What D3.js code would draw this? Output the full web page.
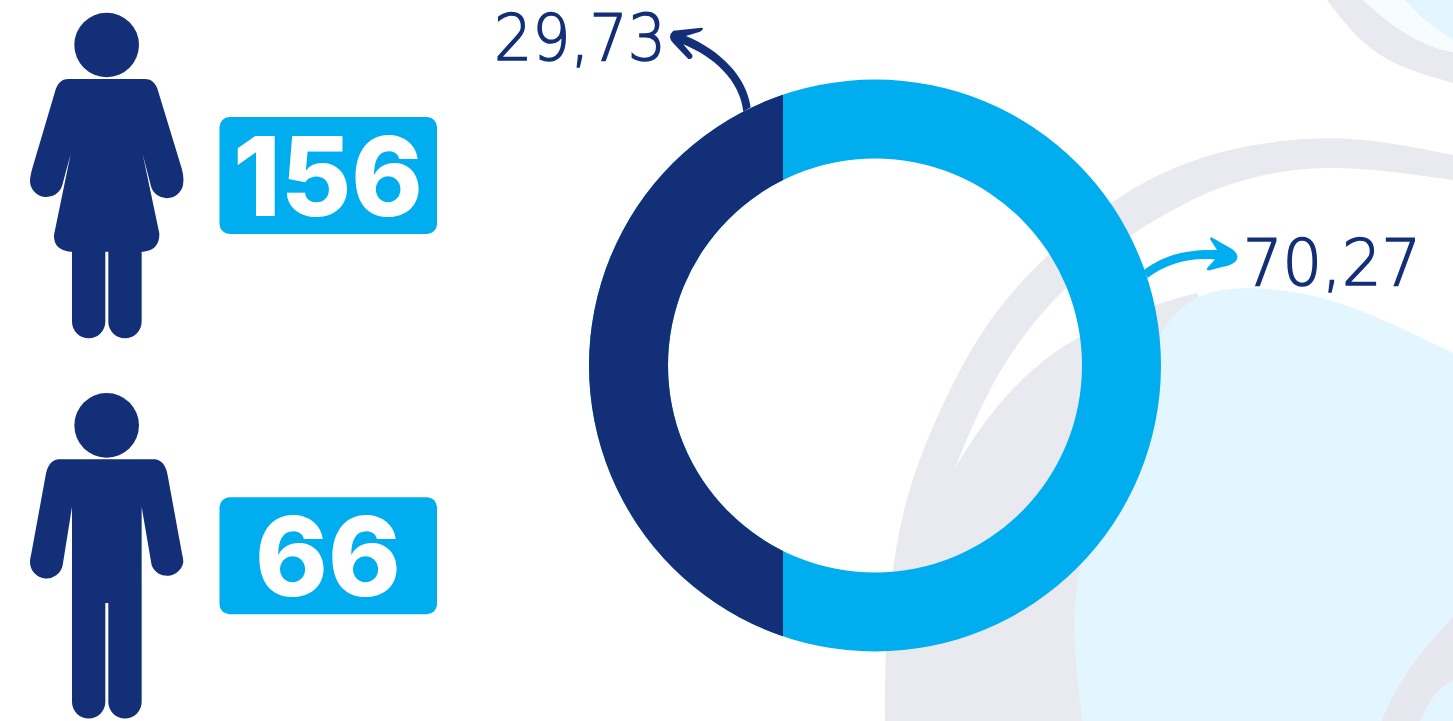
<!DOCTYPE html>
<html><head><meta charset="utf-8">
<script src="https://cdn.jsdelivr.net/npm/d3@7"></script>
<style>html,body{margin:0;padding:0;background:#fff;overflow:hidden}svg{display:block}text{font-family:Inter,"Open Sans",sans-serif}</style>
</head><body><svg id="c" width="1453" height="721"></svg>
<script>
const groups = ["Mujeres","Hombres"];
const counts = [156,66];
const shares = [29.73,70.27];
const shareColors = ["#132F77","#00AEEF"];
const DARK="#132F77", LIGHT="#00AEEF", GRAY="#E9EAF0", PALE="#E3F5FE";
const svg=d3.select("#c");
const edge=d3.line().curve(d3.curveBasis);
const shape=(...parts)=>parts.map((p,i)=>{const s=edge(p);return i?"L"+s.slice(1):s}).join("")+"Z";

// decorative background
const bg=svg.append("g");
bg.append("path").attr("fill",GRAY).attr("d",shape([[885,721],[885,647],[893,557],[910,480],[945,397],[980,333],[1013,290],[1055,247],[1113,200],[1160,173],[1217,151],[1283,140],[1330,137],[1383,141],[1453,155]],[[1453,721],[1453,721]]));
bg.append("path").attr("fill","#fff").attr("d",shape([[955,468],[980,407],[1013,347],[1065,285],[1130,235],[1160,217],[1217,186],[1283,170],[1330,167],[1383,170],[1453,180]],[[1453,400],[1250,400]],[[1197,293],[1157,303],[1080,335],[1047,357],[1013,387],[980,427],[955,468]]));
bg.append("path").attr("fill",PALE).attr("d",shape([[1082,721],[1072,630],[1077,573],[1110,440],[1160,333],[1173,315],[1200,292],[1250,286],[1317,294],[1383,319],[1453,353]],[[1453,721],[1453,721]]));
bg.append("path").attr("fill","#E7E7F0").attr("d",shape([[1382,721],[1393,693],[1420,653],[1453,617]],[[1453,680],[1433,693],[1420,721]]));
bg.append("path").attr("fill",GRAY).attr("d",shape([[1327,0],[1360,43],[1400,68],[1453,83]],[[1453,52],[1433,48],[1397,30],[1363,0]]));
bg.append("path").attr("fill","#F7FDFE").attr("d",shape([[1363,0],[1397,30],[1433,48],[1453,52]],[[1453,0],[1453,0]]));
bg.append("path").attr("fill",PALE).attr("d",shape([[1405,0],[1423,20],[1453,40]],[[1453,0],[1453,0]]));

// figures: outlines drawn in a 3x design grid
const woman="M205 237L435 237Q465 237 475 275L545 505Q552 530 550 545A49.5 49.5 0 0 1 452 555L428 462L478 700Q480 750 430 755L425 755L425 965A50 50 0 0 1 325 965L325 755L316 755L316 965A50 50 0 0 1 216 965L216 755L210 755Q160 750 162 705L212 462L187 555A49.5 49.5 0 0 1 90 545Q90 530 97 505L165 275Q175 237 205 237Z";
const man="M175 237L465 237Q495 240 503 285L546 520Q550 535 550 545A49.5 49.5 0 0 1 455 555L425 380L425 965A50 50 0 0 1 325 965L325 668L316 668L316 965A50 50 0 0 1 216 965L216 380L188 555A49.5 49.5 0 0 1 90 545Q90 535 94 520L137 285Q145 240 175 237Z";
const rowY=d3.scalePoint().domain(groups).range([0,380.3]);
const row=svg.selectAll("g.row").data(groups.map((g,i)=>({g,n:counts[i],shape:i?man:woman}))).join("g").attr("class","row")
  .attr("transform",d=>`translate(0,${rowY(d.g)})`);
const fig=row.append("g").attr("transform","scale(0.3333)");
fig.append("circle").attr("cx",320).attr("cy",135).attr("r",97).attr("fill",DARK);
fig.append("path").attr("d",d=>d.shape).attr("fill",DARK);
row.append("rect").attr("x",219.5).attr("y",117).attr("width",217.5).attr("height",117).attr("rx",10).attr("fill",LIGHT);
row.append("text").attr("x",328).attr("y",215.5).attr("text-anchor","middle").attr("fill","#fff")
  .attr("font-size",110).attr("font-weight",800).attr("textLength",d=>String(d.n).length===3?190:146).attr("lengthAdjust","spacingAndGlyphs")
  .text(d=>d.n);

// ring
const cx=875,cy=365.5,R=286,r=207;
const ring=svg.append("g").attr("transform",`translate(${cx},${cy})`);
const cutX=d3.scaleLinear().domain([0,100]).range([-R,-R+652.5]);
const arc=d3.arc().innerRadius(r).outerRadius(R).startAngle(0).endAngle(2*Math.PI);
svg.append("clipPath").attr("id","cut").append("rect").attr("x",-R-2).attr("y",-R-2).attr("width",cutX(shares[0])+R+2).attr("height",2*R+4);
ring.append("path").attr("d",arc()).attr("fill",shareColors[1]);
ring.append("path").attr("d",arc()).attr("fill",shareColors[0]).attr("clip-path","url(#cut)");

// arrows
svg.append("g").attr("transform","translate(480,0) scale(0.3333)").append("path").attr("fill",DARK)
 .attr("d","M790 335C780 240 700 170 610 133L637 165Q640 178 625 177L580 130Q560 110 580 92L665 83Q675 85 660 95L618 108C720 150 800 230 812 322Z");
svg.append("path").attr("fill",LIGHT)
 .attr("d","M1144 270C1165 254 1190 249 1217 250L1210 239L1211 237L1232 249Q1241 256 1235 262Q1230 266 1222 267L1209 270.5Q1205 270 1208 267L1215 259.5C1190 257 1165 264 1147.5 278Z");

// value labels
const fmt=d3.formatLocale({decimal:",",thousands:".",grouping:[3],currency:["",""]}).format(".2f");
const lab=svg.append("g").attr("font-weight",200).attr("font-size",64).attr("fill",DARK).attr("stroke",DARK).attr("stroke-width",1.6);
lab.append("text").style("font-family","DejaVu Sans").attr("x",494).attr("y",60).attr("textLength",172).attr("lengthAdjust","spacingAndGlyphs").text(fmt(shares[0]));
lab.append("text").style("font-family","DejaVu Sans").attr("x",1243).attr("y",284.5).attr("textLength",178).attr("lengthAdjust","spacingAndGlyphs").text(fmt(shares[1]));
</script></body></html>
